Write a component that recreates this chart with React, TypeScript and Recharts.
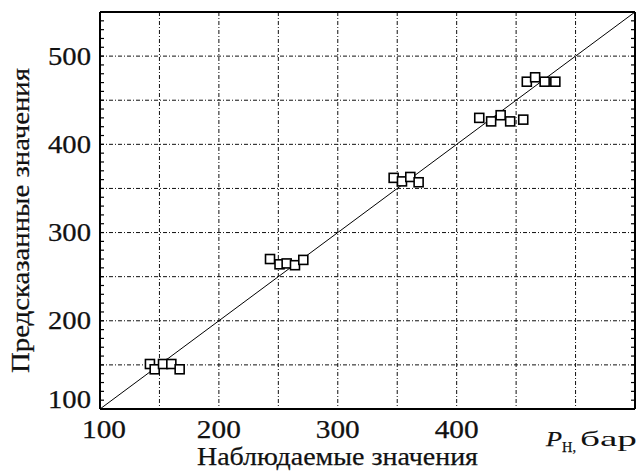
import React from 'react';
import { ScatterChart, Scatter, XAxis, YAxis, CartesianGrid, ReferenceLine } from 'recharts';

const observed = [142, 146, 153, 160, 167, 243, 251, 257, 264, 271, 347, 354, 361, 368, 419, 429, 437, 445, 456, 459, 466, 474, 483];
const predicted = [151, 145, 151, 151, 145, 270, 264, 265, 263, 269, 362, 358, 363, 357, 430, 426, 433, 426, 428, 471, 476, 471, 471];
const majorTicks = [100, 150, 200, 250, 300, 350, 400, 450, 500, 550];
const minorTicks = Array.from({ length: 46 }, (_, i) => 100 + i * 10);
const xLabelTicks = [100, 200, 300, 400];
const yLabelTicks = [100, 200, 300, 400, 500];
const unitTick = 550;
const domain: [number, number] = [100, 550];
const xTitle = 'Наблюдаемые значения';
const yTitle = 'Предсказанные значения';
const unitSymbol = 'P';
const unitSub = 'Н,';
const unitText = 'бар';

const points = observed.map((x, i) => ({ x, y: predicted[i] }));

const FONT = '"Liberation Serif", "Times New Roman", serif';
const INK = '#111';
const THICK = { stroke: INK, strokeWidth: 0.25 };

const Square = (props: any) => {
  const { cx, cy } = props;
  if (cx == null || cy == null) return <g />;
  return <rect x={cx - 4.5} y={cy - 4.5} width={9} height={9} fill="#fff" stroke="#000" strokeWidth={1.6} />;
};

const XTick = (props: any) => {
  const { x, y, payload } = props;
  if (payload.value === unitTick) {
    const base = y + 25;
    return (
      <g>
        <text x={x - 89} y={base} fontFamily={FONT} fontSize={22} fontStyle="italic" fill={INK} {...THICK}
          textLength={16} lengthAdjust="spacingAndGlyphs">
          {unitSymbol}
        </text>
        <text x={x - 73} y={base + 6} fontFamily={FONT} fontSize={15} fill={INK} {...THICK}
          textLength={14} lengthAdjust="spacingAndGlyphs">
          {unitSub}
        </text>
        <text x={x - 55} y={base} fontFamily={FONT} fontSize={22} fill={INK}
          textLength={57} lengthAdjust="spacingAndGlyphs">
          {unitText}
        </text>
      </g>
    );
  }
  if (!xLabelTicks.includes(payload.value)) return <g />;
  const shift = payload.value === 100 ? 4 : 0;
  return (
    <text x={x + shift} y={y + 17} textAnchor="middle" fontFamily={FONT} fontSize={25} fill={INK} {...THICK}
      textLength={44} lengthAdjust="spacingAndGlyphs">
      {payload.value}
    </text>
  );
};

const YTick = (props: any) => {
  const { x, y, payload } = props;
  if (!yLabelTicks.includes(payload.value)) return <g />;
  const dy = payload.value === 100 ? -1 : 8.5;
  return (
    <text x={x} y={y + dy} textAnchor="end" fontFamily={FONT} fontSize={25} fill={INK} {...THICK}
      textLength={43} lengthAdjust="spacingAndGlyphs">
      {payload.value}
    </text>
  );
};

const Empty = () => <g />;

const XTitle = (props: any) => {
  const vb = props.viewBox || { x: 0, y: 0, width: 0, height: 0 };
  const cx = vb.x + vb.width / 2 - 30;
  return (
    <text x={cx} y={vb.y + 56} textAnchor="middle" fontFamily={FONT} fontSize={25} fill={INK} {...THICK}
      textLength={281} lengthAdjust="spacingAndGlyphs">
      {xTitle}
    </text>
  );
};

const YTitle = (props: any) => {
  const vb = props.viewBox || { x: 0, y: 0, width: 0, height: 0 };
  const cx = vb.x + 19;
  const cy = vb.y + vb.height / 2 + 10;
  return (
    <text x={cx} y={cy} transform={`rotate(-90, ${cx}, ${cy})`} textAnchor="middle" fontFamily={FONT}
      fontSize={26} fill={INK} {...THICK} textLength={305} lengthAdjust="spacingAndGlyphs">
      {yTitle}
    </text>
  );
};

export default function App() {
  return (
    <div style={{ position: 'absolute', left: 0, top: 0, width: 640, height: 472, background: '#fff' }}>
      <ScatterChart width={640} height={472} margin={{ top: 12, right: 5, bottom: 0, left: 10 }}>
        <CartesianGrid stroke="#111" strokeWidth={1} strokeDasharray="4 2 1 2" />
        <XAxis type="number" dataKey="x" domain={domain} ticks={majorTicks} allowDataOverflow
          height={63} axisLine={false} tickLine={false} tickSize={0} tickMargin={12} tick={<XTick />}
          interval={0} label={<XTitle />} />
        <YAxis type="number" dataKey="y" domain={domain} ticks={majorTicks} allowDataOverflow
          width={90} axisLine={false} tickLine={false} tickSize={0} tickMargin={9} tick={<YTick />}
          interval={0} label={<YTitle />} />
        <XAxis xAxisId="bm" type="number" orientation="bottom" mirror domain={domain} ticks={minorTicks}
          allowDataOverflow interval={0} tickSize={4} tick={<Empty />}
          axisLine={{ stroke: '#000', strokeWidth: 2 }} tickLine={{ stroke: '#000', strokeWidth: 1.2 }} />
        <XAxis xAxisId="tm" type="number" orientation="top" mirror domain={domain} ticks={minorTicks}
          allowDataOverflow interval={0} tickSize={4} tick={<Empty />}
          axisLine={{ stroke: '#000', strokeWidth: 2 }} tickLine={{ stroke: '#000', strokeWidth: 1.2 }} />
        <YAxis yAxisId="lm" type="number" orientation="left" mirror domain={domain} ticks={minorTicks}
          allowDataOverflow interval={0} tickSize={4} tick={<Empty />}
          axisLine={{ stroke: '#000', strokeWidth: 2 }} tickLine={{ stroke: '#000', strokeWidth: 1.2 }} />
        <YAxis yAxisId="rm" type="number" orientation="right" mirror domain={domain} ticks={minorTicks}
          allowDataOverflow interval={0} tickSize={4} tick={<Empty />}
          axisLine={{ stroke: '#000', strokeWidth: 2 }} tickLine={{ stroke: '#000', strokeWidth: 1.2 }} />
        <ReferenceLine segment={[{ x: 100, y: 100 }, { x: 550, y: 550 }]} stroke="#000" strokeWidth={1} ifOverflow="hidden" />
        <Scatter data={points} shape={<Square />} isAnimationActive={false} />
      </ScatterChart>
    </div>
  );
}
